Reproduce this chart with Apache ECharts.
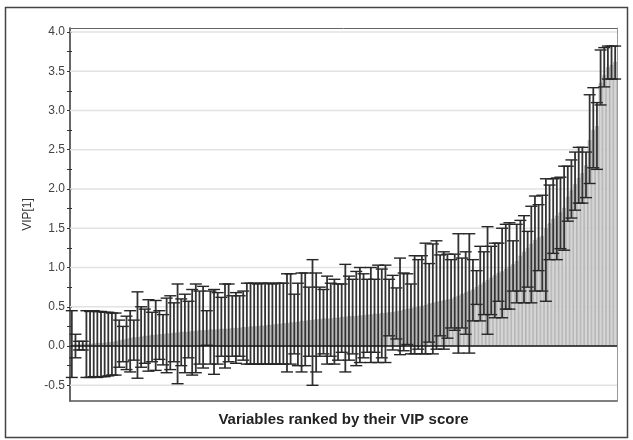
<!DOCTYPE html>
<html>
<head>
<meta charset="utf-8">
<title>VIP plot</title>
<script src="https://cdn.jsdelivr.net/npm/echarts@6/dist/echarts.min.js"></script>
<style>
  html, body { margin: 0; padding: 0; background: #ffffff; }
  #chart { width: 633px; height: 440px; }
</style>
</head>
<body>
<div id="chart"></div>
<script>
// VIP score of each variable, sorted ascending
const vip = [
  0.02,0.02,0.02,0.03,0.03,0.03,0.03,0.04,0.04,0.04,
  0.05,0.05,0.06,0.07,0.08,0.09,0.10,0.11,0.11,0.12,
  0.13,0.13,0.14,0.14,0.15,0.15,0.16,0.16,0.17,0.17,
  0.18,0.18,0.18,0.19,0.19,0.20,0.20,0.20,0.21,0.21,
  0.21,0.22,0.22,0.22,0.23,0.23,0.23,0.24,0.24,0.25,
  0.25,0.25,0.26,0.26,0.27,0.27,0.28,0.28,0.29,0.29,
  0.30,0.30,0.31,0.32,0.32,0.33,0.33,0.34,0.34,0.35,
  0.35,0.35,0.36,0.36,0.37,0.37,0.38,0.38,0.38,0.39,
  0.39,0.40,0.40,0.41,0.41,0.42,0.42,0.43,0.43,0.44,
  0.45,0.46,0.47,0.48,0.49,0.50,0.51,0.52,0.54,0.55,
  0.56,0.57,0.58,0.59,0.60,0.62,0.64,0.66,0.68,0.70,
  0.72,0.75,0.78,0.81,0.84,0.87,0.90,0.93,0.95,0.98,
  1.01,1.04,1.08,1.15,1.20,1.25,1.30,1.35,1.38,1.40,
  1.50,1.56,1.62,1.66,1.70,1.76,1.90,1.98,2.06,2.14,
  2.20,2.30,2.62,2.75,2.80,3.35,3.45,3.55,3.58,3.62
];

// Lower confidence limit of each VIP
const vipLow = [
  -0.40,-0.15,-0.05,-0.05,-0.40,-0.40,-0.39,-0.40,-0.39,-0.39,
  -0.38,-0.37,-0.37,-0.27,-0.20,-0.30,-0.33,-0.18,-0.41,-0.27,
  -0.22,-0.32,-0.20,-0.31,-0.17,-0.24,-0.34,-0.30,-0.20,-0.48,
  -0.25,-0.34,-0.15,-0.37,-0.34,-0.23,-0.28,0.01,-0.23,-0.36,
  -0.23,-0.13,-0.28,-0.20,-0.13,-0.22,-0.13,-0.18,-0.23,-0.23,
  -0.23,-0.23,-0.23,-0.23,-0.23,-0.23,-0.23,-0.23,-0.23,-0.33,
  -0.23,-0.10,-0.25,-0.33,-0.25,-0.13,-0.50,-0.33,-0.13,-0.10,
  -0.23,-0.13,-0.23,-0.18,-0.08,-0.33,-0.18,-0.10,-0.25,-0.21,
  -0.15,-0.08,-0.21,-0.08,-0.21,-0.15,-0.21,0.13,-0.05,0.09,
  -0.11,-0.06,0.02,-0.10,-0.10,-0.04,-0.10,-0.10,0.05,-0.10,
  -0.04,0.13,-0.04,0.10,0.23,0.20,-0.09,0.23,0.15,-0.09,
  0.32,0.53,0.32,0.40,0.15,0.40,0.36,0.57,0.36,0.47,
  0.47,0.70,0.55,0.70,0.55,0.75,0.55,0.70,0.96,0.70,
  0.57,1.10,1.18,1.10,1.24,1.22,1.59,1.63,1.73,1.82,
  1.82,1.89,2.07,2.27,2.25,3.07,3.30,3.40,3.40,3.40
];

// Upper confidence limit of each VIP
const vipHigh = [
  0.45,0.15,0.06,0.06,0.45,0.44,0.45,0.44,0.44,0.43,
  0.43,0.42,0.42,0.33,0.25,0.38,0.45,0.33,0.69,0.50,
  0.47,0.59,0.43,0.58,0.45,0.40,0.61,0.64,0.55,0.79,
  0.60,0.66,0.57,0.72,0.79,0.70,0.76,0.45,0.70,0.72,
  0.68,0.62,0.79,0.79,0.64,0.68,0.64,0.70,0.80,0.80,
  0.80,0.79,0.80,0.80,0.80,0.79,0.80,0.80,0.80,0.92,
  0.92,0.66,0.80,0.93,0.93,0.75,1.10,0.93,0.75,0.72,
  0.89,0.80,0.85,0.79,0.79,1.04,0.89,0.85,0.95,1.00,
  0.92,0.85,1.00,0.85,1.03,0.98,1.03,0.85,0.90,0.74,
  1.12,0.93,0.92,0.79,1.15,1.10,1.15,1.31,1.05,1.30,
  1.34,1.16,1.20,1.17,1.10,1.17,1.43,1.12,1.20,1.43,
  1.10,0.96,1.27,1.20,1.52,1.27,1.31,1.31,1.50,1.55,
  1.57,1.34,1.55,1.60,1.66,1.46,1.78,1.91,1.80,1.92,
  2.13,2.05,2.13,2.14,2.15,2.29,2.29,2.37,2.47,2.53,
  2.53,2.47,3.20,3.29,3.10,3.77,3.80,3.82,3.82,3.82
];

// Y axis range, labelled ticks and minor ticks
const yMin = -0.7;
const yMax = 4.05;
const yTicks = [-0.5, 0.0, 0.5, 1.0, 1.5, 2.0, 2.5, 3.0, 3.5, 4.0];
const yMinorTicks = [-0.5,-0.25,0,0.25,0.5,0.75,1,1.25,1.5,1.75,2,2.25,2.5,2.75,3,3.25,3.5,3.75,4];

// Variable identifiers (not shown on the axis)
const categories = vip.map((_, i) => 'Var ' + (i + 1));

const FONT = 'Liberation Sans, Arial, sans-serif';
const CAP = 12; // whisker cap width in px

const chart = echarts.init(document.getElementById('chart'), null, { renderer: 'canvas' });

function hLine(params, api, value, stroke, width) {
  const cs = params.coordSys;
  const y = api.coord([0, value])[1];
  return {
    type: 'line',
    shape: { x1: cs.x, y1: y, x2: cs.x + cs.width, y2: y },
    style: { stroke: stroke, lineWidth: width }
  };
}

chart.setOption({
  animation: false,
  backgroundColor: '#ffffff',
  graphic: [{
    type: 'rect', silent: true, z: -10,
    shape: { x: 5.5, y: 7.5, width: 622, height: 430 },
    style: { fill: 'transparent', stroke: '#444', lineWidth: 1.5 }
  }],
  grid: { left: 70, right: 16, top: 28, bottom: 39, containLabel: false },
  xAxis: [{
    type: 'category', data: categories, position: 'bottom',
    axisLine: { onZero: false, lineStyle: { color: '#555', width: 1.5 } },
    axisTick: { show: false }, axisLabel: { show: false }, splitLine: { show: false },
    name: 'Variables ranked by their VIP score', nameLocation: 'middle', nameGap: 11,
    nameTextStyle: { fontFamily: FONT, fontWeight: 'bold', fontSize: 15, color: '#222' }
  }, {
    type: 'category', data: categories, position: 'top',
    axisLine: { onZero: false, lineStyle: { color: '#666', width: 1 } },
    axisTick: { show: false }, axisLabel: { show: false }, splitLine: { show: false }
  }],
  yAxis: [{
    type: 'value', min: yMin, max: yMax, position: 'left',
    axisLine: { show: true, lineStyle: { color: '#333', width: 1.5 } },
    axisTick: { show: true, length: 3, customValues: yMinorTicks, lineStyle: { color: '#333' } },
    axisLabel: {
      customValues: yTicks, margin: 5, color: '#444', fontSize: 12, fontFamily: FONT,
      formatter: v => v.toFixed(1)
    },
    splitLine: { show: false },
    name: 'VIP[1]', nameLocation: 'middle', nameGap: 31,
    nameTextStyle: { fontFamily: FONT, fontSize: 12, color: '#333' }
  }, {
    type: 'value', min: yMin, max: yMax, position: 'right',
    axisLine: { show: true, lineStyle: { color: '#999', width: 1 } },
    axisTick: { show: false }, axisLabel: { show: false }, splitLine: { show: false }
  }, {
    type: 'value', min: yMin, max: yMax, position: 'left', offset: 0,
    axisLine: { show: false },
    axisTick: { show: true, inside: true, length: 2, customValues: yMinorTicks, lineStyle: { color: '#333' } },
    axisLabel: { show: false }, splitLine: { show: false }
  }],
  series: [{
    // horizontal grid lines
    type: 'custom', silent: true, z: 1,
    data: yTicks.map(v => [0, v]),
    encode: { x: 0, y: 1 },
    renderItem: (params, api) => hLine(params, api, api.value(1), '#e2e2e2', 1.5)
  }, {
    // VIP bars
    type: 'bar', silent: true, z: 2,
    data: vip, barWidth: '100%', barCategoryGap: 0,
    itemStyle: { color: '#d6d6d6', borderColor: '#9c9c9c', borderWidth: 0.6 }
  }, {
    // confidence interval whiskers
    type: 'custom', silent: true, z: 3,
    data: vip.map((_, i) => [i, vipLow[i], vipHigh[i]]),
    encode: { x: 0, y: [1, 2] },
    renderItem: (params, api) => {
      const lo = api.coord([api.value(0), api.value(1)]);
      const hi = api.coord([api.value(0), api.value(2)]);
      const h = CAP / 2;
      const stem = { stroke: '#333333', lineWidth: 1.8 };
      const cap = { stroke: '#262626', lineWidth: 1.4 };
      return {
        type: 'group',
        children: [
          { type: 'line', shape: { x1: lo[0], y1: lo[1], x2: hi[0], y2: hi[1] }, style: stem },
          { type: 'line', shape: { x1: hi[0] - h, y1: hi[1], x2: hi[0] + h, y2: hi[1] }, style: cap },
          { type: 'line', shape: { x1: lo[0] - h, y1: lo[1], x2: lo[0] + h, y2: lo[1] }, style: cap }
        ]
      };
    }
  }, {
    // zero reference line
    type: 'custom', silent: true, z: 4,
    data: [[0, 0]],
    encode: { x: 0, y: 1 },
    renderItem: (params, api) => hLine(params, api, api.value(1), '#1a1a1a', 1.5)
  }]
});
</script>
</body>
</html>
